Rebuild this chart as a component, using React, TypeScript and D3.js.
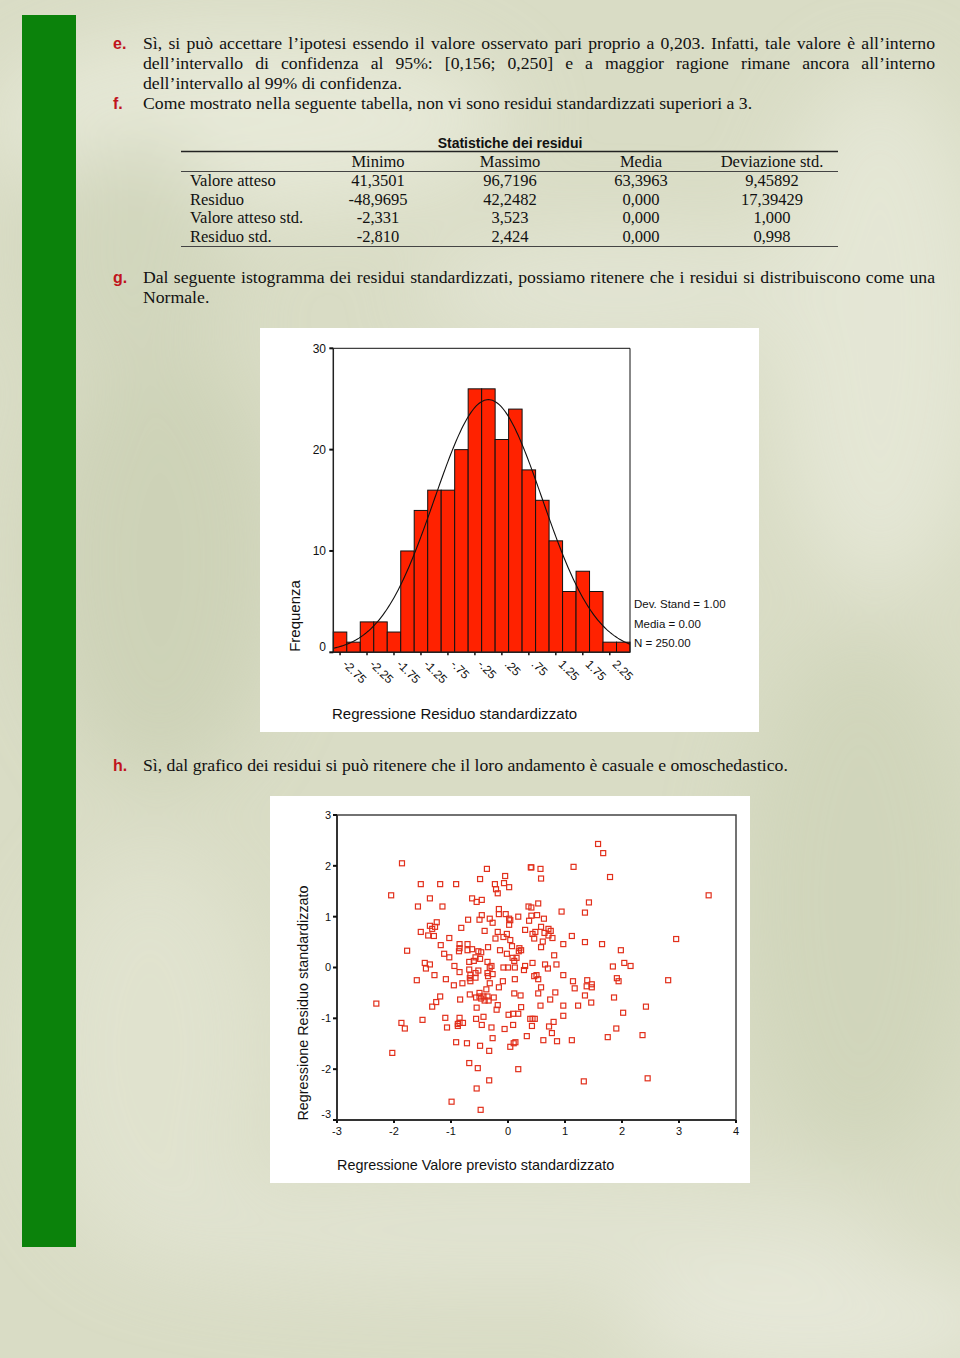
import React from 'react';
import * as d3 from 'd3';

// ---------- Data ----------
const binCenters = [-2.75, -2.5, -2.25, -2.0, -1.75, -1.5, -1.25, -1.0, -0.75, -0.5, -0.25, 0, 0.25, 0.5, 0.75, 1.0, 1.25, 1.5, 1.75, 2.0, 2.25, 2.5];
const binCounts = [2, 1, 3, 3, 2, 10, 14, 16, 16, 20, 26, 26, 21, 24, 18, 15, 11, 6, 8, 6, 1, 1];
const histTickLabels = ['-2.75', '-2.25', '-1.75', '-1.25', '-.75', '-.25', '.25', '.75', '1.25', '1.75', '2.25'];
const histYTicks = [0, 10, 20, 30];
const histStats = ['Dev. Stand = 1.00', 'Media = 0.00', 'N = 250.00'];
const histMean = 0;
const histSd = 1;
const histN = 250;
const binWidth = 0.25;

const scatterXTicks = [-3, -2, -1, 0, 1, 2, 3, 4];
const scatterYTicks = [3, 2, 1, 0, -1, -2, -3];

const scatterPoints: [number, number][] = [
  [-1.86, 2.05], [-0.37, 1.94], [0.40, 1.97], [0.41, 1.97], [0.57, 1.94], [1.15, 1.98], [1.79, 1.78],
  [-1.53, 1.64], [-1.19, 1.64], [-0.91, 1.64], [-0.49, 1.74], [-0.05, 1.80], [-0.23, 1.64], [-0.07, 1.66], [0.02, 1.58], [0.58, 1.75], [-0.21, 1.54], [-0.18, 1.46],
  [-1.37, 1.36], [-0.63, 1.36], [-0.55, 1.29], [-0.46, 1.33], [-1.58, 1.20], [-1.15, 1.20], [0.36, 1.20], [0.41, 1.18], [0.53, 1.26], [1.42, 1.28], [0.94, 1.10], [1.35, 1.08],
  [-0.16, 1.15], [-0.16, 1.05], [-0.46, 1.03], [-0.04, 1.05], [0.02, 0.96], [0.04, 0.93], [0.02, 0.84], [0.18, 1.00], [0.41, 1.02], [0.51, 1.03], [0.37, 0.92], [0.63, 0.96],
  [-0.70, 0.94], [-0.50, 0.94], [-0.32, 0.96], [-0.27, 0.88], [-1.25, 0.89], [-1.37, 0.82], [-1.33, 0.76], [-1.28, 0.80], [-0.82, 0.78],
  [-1.53, 0.70], [-1.40, 0.63], [-1.30, 0.62], [-1.03, 0.58], [-0.41, 0.72], [-0.18, 0.70], [-0.22, 0.57], [-0.08, 0.60], [-0.02, 0.66], [0.04, 0.54],
  [0.30, 0.74], [0.43, 0.66], [0.48, 0.70], [0.58, 0.80], [0.46, 0.57], [0.64, 0.68], [0.71, 0.76], [0.75, 0.72], [0.71, 0.63], [0.78, 0.58], [0.61, 0.51], [1.12, 0.62], [1.35, 0.50], [1.65, 0.46], [0.97, 0.46], [1.98, 0.34],
  [-1.77, 0.33], [-1.18, 0.44], [-0.85, 0.46], [-0.85, 0.38], [-0.86, 0.32], [-0.71, 0.46], [-0.71, 0.34], [-0.63, 0.36], [-0.52, 0.32], [-0.47, 0.30], [-0.35, 0.40], [-0.14, 0.34], [0.07, 0.42], [0.20, 0.38], [0.23, 0.34], [0.19, 0.32], [0.58, 0.40],
  [-1.12, 0.27], [0.81, 0.24], [-0.02, 0.27], [0.08, 0.19], [-1.03, 0.20],
  [-1.46, 0.09], [-1.37, 0.06], [-1.44, -0.02], [-0.94, 0.03], [-0.68, 0.11], [-0.60, 0.13], [-0.49, 0.17], [-0.57, 0.20], [-0.36, 0.11], [-0.29, 0.03], [-0.32, 0.00], [-0.08, 0.00], [0.00, 0.00], [0.12, 0.00], [0.11, 0.13], [0.15, 0.19], [0.30, 0.03], [0.28, -0.05], [0.43, 0.09], [0.65, 0.06], [0.70, -0.02], [0.85, 0.06], [1.84, 0.02], [2.04, 0.09], [2.15, 0.03],
  [-0.68, -0.04], [-0.52, -0.06], [-0.57, -0.11], [-0.85, -0.09], [-1.29, -0.15], [-1.60, -0.25], [-1.09, -0.23], [-0.95, -0.35], [-0.80, -0.31], [-0.66, -0.15], [-0.67, -0.21], [-0.66, -0.27], [-0.57, -0.20], [-0.36, -0.11], [-0.35, -0.17], [-0.27, -0.13], [-0.32, -0.31], [-0.16, -0.39], [-0.09, -0.27], [0.12, -0.23], [0.46, -0.17], [0.50, -0.15], [0.53, -0.23], [0.58, -0.39], [0.97, -0.15], [1.14, -0.27], [1.17, -0.41], [1.39, -0.25], [1.47, -0.33], [1.47, -0.39], [1.38, -0.37], [1.91, -0.21], [1.94, -0.27],
  [-0.38, -0.43], [-0.50, -0.50], [-0.67, -0.53], [-0.56, -0.59], [-0.50, -0.57], [-0.43, -0.57], [-0.36, -0.57], [-0.41, -0.65], [-0.34, -0.65], [-0.47, -0.61], [-0.25, -0.59], [-1.19, -0.57], [-1.26, -0.68], [-1.33, -0.77], [-0.84, -0.63], [0.11, -0.51], [0.22, -0.55], [0.53, -0.51], [0.83, -0.49], [0.74, -0.63], [1.35, -0.55], [1.46, -0.69], [1.86, -0.59],
  [-0.18, -0.74], [-0.20, -0.83], [-0.55, -0.79], [0.23, -0.78], [0.57, -0.75], [0.97, -0.75], [1.23, -0.75], [2.02, -0.89], [0.01, -0.93], [0.09, -0.91], [0.18, -0.91],
  [-0.43, -0.97], [-0.56, -1.01], [-1.10, -0.99], [-0.85, -0.99], [-1.50, -1.03], [-1.87, -1.09], [-1.81, -1.20], [-0.85, -1.09], [-0.88, -1.11], [-0.79, -1.09], [-0.88, -1.15], [-1.07, -1.18], [-0.46, -1.13], [-0.29, -1.18], [-0.06, -1.21], [0.09, -1.13], [0.39, -1.01], [0.43, -1.01], [0.47, -1.01], [0.42, -1.15], [0.97, -0.95], [0.80, -1.07], [0.72, -1.16], [0.77, -1.29], [1.90, -1.20], [1.75, -1.37],
  [0.33, -1.35], [0.62, -1.43], [0.86, -1.45], [1.12, -1.43], [-0.27, -1.39], [-0.91, -1.47], [-0.72, -1.49], [-0.49, -1.54], [-0.33, -1.64], [0.04, -1.56], [0.10, -1.49], [0.13, -1.47],
  [-2.05, 1.42], [-2.31, -0.71], [-2.03, -1.68], [-0.68, -1.88], [-0.53, -1.98], [-0.33, -2.22], [-0.55, -2.38], [-0.99, -2.64], [-0.48, -2.80], [0.18, -2.00],
  [1.58, 2.43], [1.67, 2.25], [3.52, 1.42], [2.95, 0.56], [2.81, -0.25], [2.42, -0.77], [2.36, -1.33], [2.45, -2.18], [1.33, -2.24],
];

const tableTitle = 'Statistiche dei residui';
const tableHeader = ['Minimo', 'Massimo', 'Media', 'Deviazione std.'];
const tableRowLabels = ['Valore atteso', 'Residuo', 'Valore atteso std.', 'Residuo std.'];
const tableMin = ['41,3501', '-48,9695', '-2,331', '-2,810'];
const tableMax = ['96,7196', '42,2482', '3,523', '2,424'];
const tableMean = ['63,3963', '0,000', '0,000', '0,000'];
const tableSd = ['9,45892', '17,39429', '1,000', '0,998'];

const paraE = [
  'Sì, si può accettare l’ipotesi essendo il valore osservato pari proprio a 0,203. Infatti, tale valore è all’interno',
  'dell’intervallo di confidenza al 95%: [0,156; 0,250] e a maggior ragione rimane ancora all’interno',
  'dell’intervallo al 99% di confidenza.',
];
const paraF = ['Come mostrato nella seguente tabella, non vi sono residui standardizzati superiori a 3.'];
const paraG = [
  'Dal seguente istogramma dei residui standardizzati, possiamo ritenere che i residui si distribuiscono come una',
  'Normale.',
];
const paraH = ['Sì, dal grafico dei residui si può ritenere che il loro andamento è casuale e omoschedastico.'];

// ---------- Helpers ----------
const SERIF = '"Liberation Serif", "Times New Roman", serif';
const SANS = '"Liberation Sans", Arial, sans-serif';
const BODY_SIZE = 17.7;
const TABLE_SIZE = 16.5;

let ctx: CanvasRenderingContext2D | null = null;
function measure(t: string, font: string) {
  if (!ctx) ctx = document.createElement('canvas').getContext('2d');
  if (!ctx) return t.length * 7;
  ctx.font = font;
  return ctx.measureText(t).width;
}

function Line({ text, x1, x2, y, justify }: { text: string; x1: number; x2: number; y: number; justify: boolean }) {
  if (!justify) {
    return (
      <text x={x1} y={y} fontFamily={SERIF} fontSize={BODY_SIZE} fill="#111">{text}</text>
    );
  }
  const words = text.split(' ');
  const font = `${BODY_SIZE}px ${SERIF}`;
  const widths = words.map((w) => measure(w, font));
  const total = widths.reduce((a, b) => a + b, 0);
  const gap = (x2 - x1 - total) / (words.length - 1);
  let cx = x1;
  const xs = widths.map((w) => {
    const p = cx;
    cx += w + gap;
    return p;
  });
  return (
    <text y={y} fontFamily={SERIF} fontSize={BODY_SIZE} fill="#111">
      {words.map((w, i) => (
        <tspan key={i} x={xs[i]}>{w}</tspan>
      ))}
    </text>
  );
}

function Para({ letter, lines, y0, justifyLast }: { letter: string; lines: string[]; y0: number; justifyLast?: boolean }) {
  return (
    <g>
      <text x={113} y={y0} fontFamily={SANS} fontWeight="bold" fontSize={16} fill="#c0141c">{letter}</text>
      {lines.map((l, i) => (
        <Line key={i} text={l} x1={143} x2={935} y={y0 + i * 20} justify={i < lines.length - 1 || !!justifyLast} />
      ))}
    </g>
  );
}

function normalPdf(v: number) {
  return Math.exp(-0.5 * ((v - histMean) / histSd) ** 2) / (histSd * Math.sqrt(2 * Math.PI));
}

export default function App() {
  // histogram scales
  const xH = d3.scaleLinear().domain([-2.875, 2.625]).range([333.3, 630]);
  const yH = d3.scaleLinear().domain([0, 30]).range([652.3, 348.3]);
  const curvePts: [number, number][] = d3.range(-2.875, 2.6251, 0.025).map((v) => [xH(v), yH(histN * binWidth * normalPdf(v))]);
  const curvePath = d3.line()(curvePts) || '';

  // scatter scales
  const xS = d3.scaleLinear().domain([-3, 4]).range([337, 736]);
  const yS = d3.scaleLinear().domain([-3, 3]).range([1120, 815]);

  const colX = [378, 510, 641, 772];

  return (
    <svg width={960} height={1358} style={{ position: 'absolute', left: 0, top: 0 }} xmlns="http://www.w3.org/2000/svg">
      <defs>
        <filter id="blur" x="-50%" y="-50%" width="200%" height="200%">
          <feGaussianBlur stdDeviation="40" />
        </filter>
      </defs>
      {/* background texture */}
      <rect x={0} y={0} width={960} height={1358} fill="#d9dcc5" />
      <g filter="url(#blur)" opacity={0.7}>
        <ellipse cx={250} cy={120} rx={260} ry={90} fill="#eceedf" />
        <ellipse cx={880} cy={330} rx={110} ry={260} fill="#e9ebdc" />
        <ellipse cx={160} cy={560} rx={120} ry={220} fill="#c9cfb2" />
        <ellipse cx={860} cy={900} rx={120} ry={260} fill="#cdd3b7" />
        <ellipse cx={150} cy={1050} rx={120} ry={200} fill="#e3e5d3" />
        <ellipse cx={500} cy={1230} rx={400} ry={60} fill="#e4e6d6" />
        <ellipse cx={820} cy={1320} rx={200} ry={60} fill="#ecede1" />
        <ellipse cx={620} cy={290} rx={200} ry={60} fill="#e6e8d9" />
        <ellipse cx={130} cy={260} rx={100} ry={120} fill="#cfd4ba" />
      </g>
      <rect x={22} y={15} width={54} height={1232} fill="#0b820b" />

      {/* paragraphs */}
      <Para letter="e." lines={paraE} y0={49} />
      <Para letter="f." lines={paraF} y0={109} />
      <Para letter="g." lines={paraG} y0={283} />
      <Para letter="h." lines={paraH} y0={771} />

      {/* table */}
      <text x={510} y={148} textAnchor="middle" fontFamily={SANS} fontWeight="bold" fontSize={14} fill="#111">{tableTitle}</text>
      <line x1={181} x2={838} y1={151.5} y2={151.5} stroke="#222" strokeWidth={1.5} />
      <line x1={181} x2={838} y1={171.5} y2={171.5} stroke="#444" strokeWidth={1} />
      <line x1={181} x2={838} y1={246.5} y2={246.5} stroke="#444" strokeWidth={1} />
      {tableHeader.map((h, i) => (
        <text key={h} x={colX[i]} y={167} textAnchor="middle" fontFamily={SERIF} fontSize={TABLE_SIZE} fill="#111">{h}</text>
      ))}
      {tableRowLabels.map((r, i) => {
        const y = 186 + i * 18.7;
        const vals = [tableMin[i], tableMax[i], tableMean[i], tableSd[i]];
        return (
          <g key={r}>
            <text x={190} y={y} fontFamily={SERIF} fontSize={TABLE_SIZE} fill="#111">{r}</text>
            {vals.map((v, j) => (
              <text key={j} x={colX[j]} y={y} textAnchor="middle" fontFamily={SERIF} fontSize={TABLE_SIZE} fill="#111">{v}</text>
            ))}
          </g>
        );
      })}

      {/* histogram panel */}
      <rect x={260} y={328} width={499} height={404} fill="#ffffff" />
      {binCenters.map((c, i) => (
        <rect
          key={i}
          x={xH(c - binWidth / 2)}
          y={yH(binCounts[i])}
          width={xH(c + binWidth / 2) - xH(c - binWidth / 2)}
          height={yH(0) - yH(binCounts[i])}
          fill="#ff2200"
          stroke="#111"
          strokeWidth={1}
        />
      ))}
      <path d={curvePath} fill="none" stroke="#111" strokeWidth={1.1} />
      {/* frame */}
      <line x1={xH(-2.875)} x2={630} y1={yH(30)} y2={yH(30)} stroke="#111" strokeWidth={1} />
      <line x1={630} x2={630} y1={yH(30)} y2={yH(0)} stroke="#111" strokeWidth={1} />
      <line x1={xH(-2.875)} x2={xH(-2.875)} y1={yH(30)} y2={yH(0)} stroke="#222" strokeWidth={1.5} />
      <line x1={xH(-2.875)} x2={630} y1={yH(0)} y2={yH(0)} stroke="#222" strokeWidth={1.5} />
      {histYTicks.map((t) => (
        <g key={t}>
          <line x1={xH(-2.875) - 4} x2={xH(-2.875)} y1={yH(t)} y2={yH(t)} stroke="#111" strokeWidth={2} />
          <text x={326} y={yH(t) - (t === 0 ? 6 : 0)} dy="0.35em" textAnchor="end" fontFamily={SANS} fontSize={12} fill="#111">{t}</text>
        </g>
      ))}
      {histTickLabels.map((l) => {
        const v = parseFloat(l);
        return (
          <g key={l}>
            <line x1={xH(v)} x2={xH(v)} y1={yH(0)} y2={yH(0) + 3} stroke="#111" strokeWidth={1.5} />
            <text transform={`translate(${xH(v) + 2},665) rotate(45)`} fontFamily={SANS} fontSize={12} fill="#111">{l}</text>
          </g>
        );
      })}
      {histStats.map((s, i) => (
        <text key={s} x={634} y={608 + i * 19.5} fontFamily={SANS} fontSize={11.5} fill="#111">{s}</text>
      ))}
      <text transform="translate(300,616) rotate(-90)" textAnchor="middle" fontFamily={SANS} fontSize={15} fill="#111">Frequenza</text>
      <text x={332} y={719} fontFamily={SANS} fontSize={15} fill="#111">Regressione Residuo standardizzato</text>

      {/* scatter panel */}
      <rect x={270} y={796} width={480} height={387} fill="#ffffff" />
      <rect x={xS(-3)} y={yS(3)} width={xS(4) - xS(-3)} height={yS(-3) - yS(3)} fill="none" stroke="#444" strokeWidth={1.5} />
      <line x1={xS(-3)} x2={xS(-3)} y1={yS(3)} y2={yS(-3)} stroke="#333" strokeWidth={2} />
      <line x1={xS(-3)} x2={xS(4)} y1={yS(-3)} y2={yS(-3)} stroke="#333" strokeWidth={2} />
      {scatterYTicks.map((t) => (
        <g key={t}>
          <line x1={xS(-3) - 4} x2={xS(-3)} y1={yS(t)} y2={yS(t)} stroke="#111" strokeWidth={2} />
          <text x={331} y={yS(t) - (t === -3 ? 6 : 0)} dy="0.35em" textAnchor="end" fontFamily={SANS} fontSize={11} fill="#111">{t}</text>
        </g>
      ))}
      {scatterXTicks.map((t) => (
        <g key={t}>
          <line x1={xS(t)} x2={xS(t)} y1={yS(-3)} y2={yS(-3) + 3} stroke="#111" strokeWidth={2} />
          <text x={xS(t)} y={1135} textAnchor="middle" fontFamily={SANS} fontSize={11} fill="#111">{t}</text>
        </g>
      ))}
      {scatterPoints.map(([px, py], i) => (
        <rect key={i} x={xS(px) - 2.5} y={yS(py) - 2.5} width={5} height={5} fill="none" stroke="#e2301c" strokeWidth={1.2} />
      ))}
      <text transform="translate(308,1003) rotate(-90)" textAnchor="middle" fontFamily={SANS} fontSize={14.4} fill="#111">Regressione Residuo standardizzato</text>
      <text x={337} y={1170} fontFamily={SANS} fontSize={14.4} fill="#111">Regressione Valore previsto standardizzato</text>
    </svg>
  );
}
